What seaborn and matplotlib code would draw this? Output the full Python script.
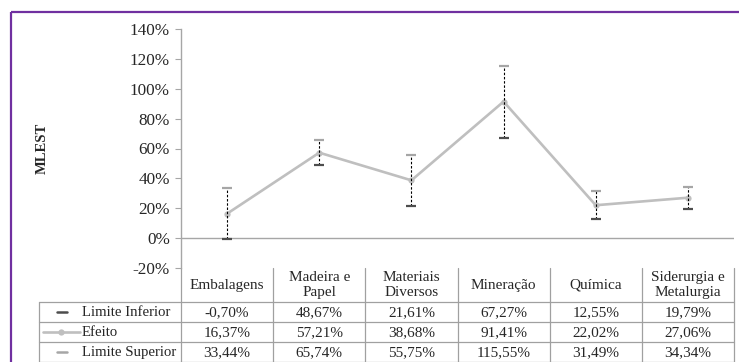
import numpy as np
import pandas as pd
import matplotlib
matplotlib.use("Agg")
import matplotlib.pyplot as plt
import seaborn as sns
from matplotlib.ticker import FuncFormatter

# Data (percent)
categories = ["Embalagens", "Madeira e\nPapel", "Materiais\nDiversos",
              "Mineração", "Química", "Siderurgia e\nMetalurgia"]
limite_inferior = [-0.70, 48.67, 21.61, 67.27, 12.55, 19.79]
efeito = [16.37, 57.21, 38.68, 91.41, 22.02, 27.06]
limite_superior = [33.44, 65.74, 55.75, 115.55, 31.49, 34.34]
row_labels = ["Limite Inferior", "Efeito", "Limite Superior"]
y_ticks = [-20, 0, 20, 40, 60, 80, 100, 120, 140]


def fmt_pct(v):
    return f"{v:.2f}%".replace(".", ",")


def main():
    sns.set_style("white")
    plt.rcParams["font.family"] = ["Liberation Serif", "DejaVu Serif"]

    W, H = 739, 362
    fig = plt.figure(figsize=(W / 100, H / 100), dpi=100)

    # pixel geometry of the plot area
    left, right, top, bottom = 181, 734, 29, 268
    ax = fig.add_axes([left / W, 1 - bottom / H, (right - left) / W, (bottom - top) / H])

    grid_c = "#A6A6A6"
    line_c = "#BFBFBF"

    df = pd.DataFrame({"pos": np.arange(len(categories)), "efeito": efeito})
    sns.lineplot(data=df, x="pos", y="efeito", ax=ax, color=line_c, lw=1.9,
                 marker="o", markersize=4.5, markeredgewidth=0,
                 markerfacecolor=line_c, zorder=2)

    ax.vlines(df["pos"], limite_inferior, limite_superior, colors="black",
              linestyles=(0, (2.2, 1.6)), lw=0.8, zorder=3)
    ax.plot(df["pos"], limite_inferior, ls="none", marker="_", ms=6.5,
            mew=1.6, color="#4D4D4D", zorder=4)
    ax.plot(df["pos"], limite_superior, ls="none", marker="_", ms=6.5,
            mew=1.6, color=grid_c, zorder=4)

    ax.axhline(0, color=grid_c, lw=1.0, zorder=1)
    ax.set_xlim(-0.5, len(categories) - 0.5)
    ax.set_ylim(-20, 140)
    ax.set_yticks(y_ticks)
    ax.yaxis.set_major_formatter(FuncFormatter(lambda v, p: f"{v:.0f}%"))
    ax.set_xticks([])
    ax.set_xlabel("")
    ax.set_ylabel("")
    for s in ["top", "right", "bottom"]:
        ax.spines[s].set_visible(False)
    ax.spines["left"].set_color(grid_c)
    ax.spines["left"].set_linewidth(1.0)
    ax.tick_params(axis="y", direction="out", length=4, width=0.8,
                   color=grid_c, labelsize=12.3, pad=4, left=True)
    ax.set_facecolor("none")

    # overlay in pixel coordinates for frame and data table
    ov = fig.add_axes([0, 0, 1, 1], zorder=-1)
    ov.set_xlim(0, W)
    ov.set_ylim(H, 0)
    ov.axis("off")

    purple = "#7030A0"
    ov.plot([11, W], [12, 12], color=purple, lw=1.6, solid_capstyle="butt")
    ov.plot([11, 11], [12, H], color=purple, lw=1.6, solid_capstyle="butt")

    ov.text(42, (top + bottom) / 2, "MLEST", rotation=90, ha="center",
            va="center", fontsize=10.5, fontweight="bold")

    col_w = (right - left) / len(categories)
    tab_c = "#A0A0A0"
    # vertical separators
    for k in range(len(categories) + 1):
        x = left + k * col_w
        ov.plot([x, x], [bottom, H], color=tab_c, lw=0.9)
    ov.plot([39, 39], [302, H], color=tab_c, lw=0.9)
    for y in [302, 322, 342, 361.5]:
        ov.plot([39, right], [y, y], color=tab_c, lw=0.9)

    header_y = 285
    row_y = [312, 332, 352]
    for k, cat in enumerate(categories):
        cx = left + (k + 0.5) * col_w
        ov.text(cx, header_y, cat, ha="center", va="center", fontsize=11,
                linespacing=1.2)
        for ry, vals in zip(row_y, [limite_inferior, efeito, limite_superior]):
            ov.text(cx, ry + 0.5, fmt_pct(vals[k]), ha="center", va="center",
                    fontsize=11)

    # legend keys in the table
    ov.plot([57, 67], [row_y[0], row_y[0]], color="#4D4D4D", lw=1.8)
    ov.plot([43, 80], [row_y[1], row_y[1]], color=line_c, lw=1.9)
    ov.plot([61], [row_y[1]], marker="o", ms=4.5, color=line_c, mew=0)
    ov.plot([57, 67], [row_y[2], row_y[2]], color=grid_c, lw=1.8)
    for ry, lab in zip(row_y, row_labels):
        ov.text(82, ry + 0.5, lab, ha="left", va="center", fontsize=10.6)

    fig.savefig("out.png", dpi=100, facecolor="white")


if __name__ == "__main__":
    main()
